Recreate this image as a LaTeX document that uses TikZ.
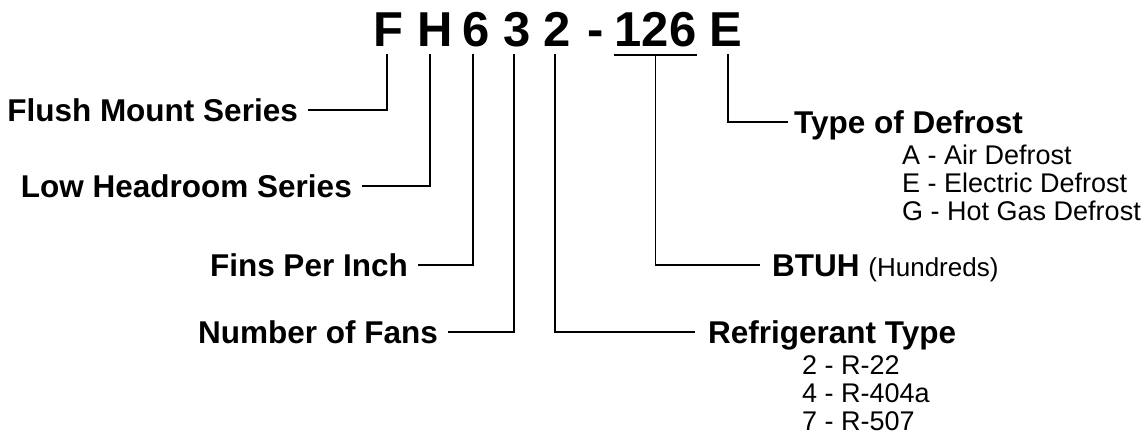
\documentclass[tikz,border=0pt]{standalone}
\usepackage{fontspec}
\setmainfont{Liberation Sans}
\begin{document}
\begin{tikzpicture}[x=1pt,y=-1pt,
  hd/.style={font=\fontsize{49}{49}\selectfont\bfseries, inner sep=0pt, anchor=base},
  lab/.style={font=\fontsize{31.5}{31.5}\selectfont\bfseries, inner xsep=10pt, inner ysep=0pt, text height=22.6pt, text depth=0pt},
  itm/.style={font=\fontsize{27}{27}\selectfont, inner sep=0pt, anchor=west, text height=19.3pt, text depth=0pt},
  ln/.style={line width=1.8pt, line join=miter}]
\useasboundingbox (0,0) rectangle (1148,440);
% heading characters
\node[hd] (cF) at (388,46) {F};
\node[hd] (cH) at (435,46) {H};
\node[hd] (c6) at (476,46) {6};
\node[hd] (c3) at (517,46) {3};
\node[hd] (c2) at (557,46) {2};
\node[hd] (cd) at (596,46) {-};
\node[hd] (c126) at (655.5,46) {126};
\node[hd] (cE) at (726,46) {E};
% labels
\node[lab, anchor=east] (fms) at (308,110) {Flush Mount Series};
\node[lab, anchor=east] (lhs) at (362,186) {Low Headroom Series};
\node[lab, anchor=east] (fpi) at (418,265) {Fins Per Inch};
\node[lab, anchor=east] (nof) at (448,332) {Number of Fans};
\node[lab, anchor=west, inner xsep=6pt] (tod) at (788,122) {Type of Defrost};
\node[lab, anchor=west, inner xsep=12pt, font=\fontsize{31.5}{31.5}\selectfont] (btuh) at (760,265) {\textbf{BTUH} {\fontsize{26}{26}\selectfont(Hundreds)}};
\node[lab, anchor=west, inner xsep=13pt] (rt) at (695,332) {Refrigerant Type};
% lists
\node[itm] (tA) at (902,155) {A - Air Defrost};
\node[itm] (tE) at (902,183) {E - Electric Defrost};
\node[itm] (tG) at (902,211) {G - Hot Gas Defrost};
\node[itm] (r2) at (802,365) {2 - R-22};
\node[itm] (r4) at (802,393) {4 - R-404a};
\node[itm] (r7) at (802,421) {7 - R-507};
% connectors
\draw[ln] (fms.east) -| ([xshift=-1pt,yshift=-8pt]cF.base);
\draw[ln] (lhs.east) -| ([xshift=-5pt,yshift=-8pt]cH.base);
\draw[ln] (fpi.east) -| ([xshift=-3pt,yshift=-8pt]c6.base);
\draw[ln] (nof.east) -| ([xshift=-3pt,yshift=-8pt]c3.base);
\draw[ln] (rt.west) -| ([xshift=-2pt,yshift=-8pt]c2.base);
\draw[ln] ([yshift=-9pt]c126.base west) -- ([yshift=-9pt]c126.base east);
\draw[ln] ([yshift=-9pt]c126.base) |- (btuh.west);
\draw[ln] (tod.west) -| ([xshift=2pt,yshift=-8pt]cE.base);
\end{tikzpicture}
\end{document}
